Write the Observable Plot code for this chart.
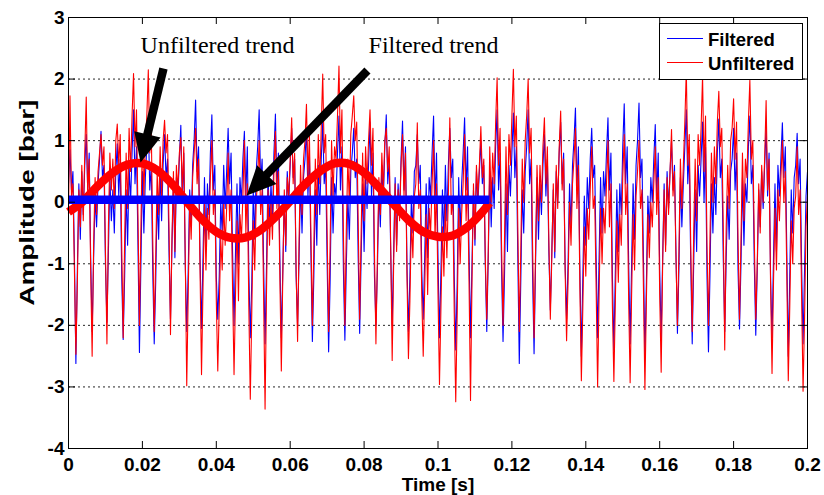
<!DOCTYPE html>
<html><head><meta charset="utf-8">
<script src="https://cdn.jsdelivr.net/npm/d3@7"></script>
<script src="https://cdn.jsdelivr.net/npm/@observablehq/plot@0.6"></script>
<style>
html,body{margin:0;padding:0;background:#fff;}
#wrap{position:relative;width:824px;height:495px;}
#legend{position:absolute;left:0;top:0;pointer-events:none;}
</style></head><body><div id="wrap"></div>
<script>
// sampling interval of the recorded signals [s]
const sampleStep = 0.0004;

// Filtered pressure signal [bar]
const filtered = [
 0.3,0.85,0.2,0.5,-0.9,-2.62,
 -1.1,0.3,-0.6,0.5,-0.2,0.6,1.1,0.2,0.8,-0.9,-2.1,
 -0.9,0.1,-0.4,0.3,0.7,1.15,0.4,0.6,-1.0,-1.95,
 -0.8,0.4,-0.3,0.2,-0.5,0.5,0.95,0.1,0.7,-1.2,-2.23,
 -1.2,0.2,-0.7,0.6,0.0,0.8,1.5,0.3,0.9,-0.7,-2.44,
 -1.0,0.5,-0.5,0.4,0.9,1.3,0.2,0.6,-1.1,-2.3,
 -1.3,0.1,-0.6,0.5,-0.3,0.6,1.1,0.4,0.7,-0.8,-1.9,
 -0.7,0.3,-0.9,0.4,0.1,0.7,1.25,0.0,0.8,-1.0,-2.1,
 -1.1,0.2,-0.4,0.6,1.0,1.66,0.5,0.9,-0.9,-2.05,
 -0.9,0.4,-0.7,0.3,-0.2,0.8,1.42,0.2,0.6,-1.2,-1.9,
 -1.2,0.0,-0.5,0.6,-0.1,0.5,1.2,0.3,0.8,-0.8,-2.0,
 -0.8,0.3,-1.0,0.4,0.0,0.7,1.15,0.1,0.9,-1.1,-2.2,
 -1.3,0.2,-0.6,0.5,0.9,1.5,0.3,0.7,-1.0,-2.3,
 -1.0,0.5,-0.4,0.3,-0.3,0.8,1.43,0.2,0.8,-0.9,-2.2,
 -1.1,0.1,-0.8,0.5,0.0,0.6,1.2,0.4,0.7,-1.2,-2.0,
 -0.9,0.3,-0.5,0.4,0.7,1.2,0.1,0.8,-0.8,-2.26,
 -1.2,0.2,-0.7,0.6,-0.2,0.7,1.3,0.3,0.6,-1.0,-2.43,
 -1.3,0.4,-0.5,0.3,0.1,0.8,1.4,0.2,0.9,-1.1,-2.24,
 -1.0,0.1,-0.6,0.5,0.8,1.2,0.4,0.7,-0.9,-2.13,
 -0.9,0.3,-0.8,0.4,-0.1,0.6,1.3,0.1,0.8,-1.2,-2.0,
 -1.1,0.2,-0.4,0.6,0.0,0.9,1.42,0.3,0.7,-0.8,-2.0,
 -0.8,0.4,-0.7,0.3,-0.2,0.7,1.32,0.2,0.9,-1.0,-2.1,
 -1.2,0.1,-0.5,0.5,0.6,1.1,0.3,0.6,-1.1,-1.9,
 -0.9,0.3,-0.9,0.4,0.1,0.8,1.4,0.0,0.8,-0.9,-2.2,
 -1.1,0.2,-0.6,0.6,-0.3,0.6,1.2,0.4,0.7,-1.2,-2.4,
 -1.3,0.4,-0.5,0.3,0.8,1.37,0.2,0.9,-0.8,-2.2,
 -1.0,0.2,-0.7,0.5,0.0,0.5,1.0,0.3,0.6,-1.0,-2.1,
 -0.9,0.5,-0.4,0.4,-0.1,0.9,1.5,0.2,0.8,-1.1,-2.26,
 -1.2,0.3,-0.8,0.6,0.1,0.8,1.45,0.4,0.9,-0.9,-2.62,
 -1.3,0.2,-0.5,0.5,0.9,1.5,0.3,0.7,-1.2,-2.46,
 -1.0,0.4,-0.6,0.3,-0.2,0.6,1.1,0.1,0.7,-0.8,-1.75,
 -0.8,0.2,-0.9,0.5,0.0,0.8,1.3,0.3,0.8,-1.0,-1.9,
 -1.0,0.3,-0.4,0.6,1.0,1.53,0.2,0.9,-1.1,-2.5,
 -1.2,0.1,-0.7,0.4,-0.1,0.7,1.2,0.4,0.6,-0.9,-2.2,
 -0.9,0.4,-0.5,0.5,0.1,0.8,1.37,0.2,0.8,-1.2,-2.4,
 -1.1,0.2,-0.8,0.3,-0.2,0.9,1.6,0.3,0.9,-1.0,-2.3,
 -1.0,0.3,-0.6,0.6,1.0,1.61,0.4,0.7,-0.9,-2.5,
 -1.3,0.1,-0.5,0.4,0.0,0.7,1.26,0.1,0.8,-1.1,-2.2,
 -0.9,0.3,-0.7,0.5,-0.1,0.5,1.0,0.2,0.6,-0.8,-2.13,
 -1.1,0.4,-0.4,0.3,0.9,1.5,0.3,0.8,-1.0,-2.3,
 -1.0,0.2,-0.8,0.6,0.1,0.7,1.3,0.0,0.9,-1.2,-2.43,
 -1.2,0.3,-0.5,0.4,-0.2,0.8,1.35,0.4,0.7,-0.9,-2.1,
 -0.9,0.1,-0.6,0.5,0.7,1.2,0.2,0.8,-1.1,-2.06,
 -1.0,0.4,-0.7,0.3,0.0,0.9,1.4,0.3,0.6,-1.0,-2.16,
 -1.1,0.2,-0.4,0.5,-0.1,0.6,1.2,0.1,0.8,-1.2,-2.2,
 -0.9,0.3,-0.8,0.6,0.1,0.7,1.29,0.4,0.9,-0.8,-2.5,
 -1.2,0.2,-0.5,0.4,0.6,1.12,0.3,0.7,-1.0,-2.3,
 -1.1,0.1,0.5
];

// Unfiltered pressure signal [bar]
const unfiltered = [
 -0.2,1.73,0.1,0.3,-1.1,-2.47,
 -1.3,0.2,-0.4,0.6,-0.3,0.8,1.71,0.1,0.7,-1.1,-2.5,
 -0.7,0.4,-0.2,0.5,0.8,1.1,0.6,0.9,-0.8,-2.3,
 -0.4,0.8,0.2,0.7,-0.1,1.0,1.27,0.6,1.1,-0.7,-2.2,
 -0.6,0.8,-0.1,1.2,0.5,1.4,2.09,0.9,1.5,-0.2,-2.0,
 -0.4,1.1,0.1,1.0,1.4,2.15,0.8,1.2,-0.6,-2.1,
 -0.9,0.5,-0.2,0.9,0.1,1.0,1.33,0.8,1.1,-0.4,-2.15,
 -0.6,0.5,-0.8,0.6,0.2,0.8,1.05,0.2,0.9,-0.9,-2.98,
 -1.5,0.0,-0.6,0.4,0.8,1.2,0.3,0.7,-1.1,-2.8,
 -1.4,0.0,-1.1,-0.1,-0.6,0.4,1.0,-0.2,0.2,-1.6,-2.74,
 -1.7,-0.6,-1.1,0.0,-0.7,-0.1,0.8,-0.3,0.2,-1.4,-2.8,
 -1.5,-0.3,-1.6,-0.2,-0.6,0.1,1.0,-0.5,0.3,-1.7,-3.2,
 -1.8,-0.3,-1.1,0.0,0.4,1.0,-0.2,0.2,-1.5,-3.36,
 -1.4,0.2,-0.7,0.0,-0.6,0.5,1.15,-0.1,0.5,-1.2,-2.74,
 -1.2,0.2,-0.7,0.4,0.1,0.7,1.37,0.3,0.8,-1.1,-2.26,
 -0.6,0.6,-0.2,0.7,1.0,1.59,0.4,1.1,-0.5,-2.0,
 -0.7,0.7,-0.2,1.1,0.3,1.2,2.08,0.8,1.1,-0.5,-2.1,
 -0.7,1.0,0.1,0.9,0.7,1.4,2.21,0.8,1.5,-0.5,-2.0,
 -0.4,0.7,0.0,1.1,1.4,1.73,1.0,1.3,-0.3,-1.9,
 -0.5,0.8,-0.3,0.9,0.3,1.0,1.5,0.6,1.2,-0.8,-2.3,
 -0.9,0.4,-0.2,0.8,0.2,1.0,1.2,0.5,0.9,-0.7,-2.57,
 -1.0,0.3,-0.8,0.2,-0.3,0.6,1.1,0.1,0.8,-1.2,-2.54,
 -1.6,-0.3,-0.9,0.1,0.3,1.29,-0.1,0.2,-1.5,-2.5,
 -1.4,-0.2,-1.5,-0.1,-0.5,0.3,1.0,-0.6,0.3,-1.5,-2.96,
 -1.7,-0.4,-1.2,0.0,-0.9,0.1,1.37,-0.2,0.1,-1.8,-3.24,
 -1.8,-0.1,-1.0,-0.2,0.3,1.1,-0.3,0.4,-1.3,-3.22,
 -1.3,0.3,-0.6,0.6,0.1,0.6,1.23,0.4,0.7,-0.9,-1.9,
 -0.8,0.9,0.0,0.8,0.3,1.3,2.02,0.6,1.2,-0.7,-2.0,
 -0.6,0.9,-0.2,1.1,0.6,1.4,2.16,0.9,1.4,-0.4,-2.1,
 -0.8,0.7,0.0,1.0,1.4,2.0,0.8,1.2,-0.7,-2.2,
 -0.8,0.6,-0.3,0.6,0.0,0.9,1.37,0.3,0.9,-0.6,-1.9,
 -0.9,0.3,-0.8,0.6,-0.1,0.9,1.48,0.2,0.7,-1.1,-2.25,
 -1.3,0.0,-0.7,0.3,0.7,1.2,-0.1,0.6,-1.4,-2.9,
 -1.7,-0.4,-1.2,-0.1,-0.6,0.2,0.9,-0.1,0.1,-1.4,-3.0,
 -1.5,-0.1,-1.0,-0.1,-0.5,0.3,1.0,-0.4,0.3,-1.7,-2.91,
 -1.6,-0.3,-1.3,-0.2,-0.7,0.4,1.1,-0.2,0.3,-1.6,-2.93,
 -1.5,-0.2,-1.1,0.1,0.5,1.0,-0.1,0.2,-1.4,-3.04,
 -1.6,-0.2,-0.9,0.0,-0.4,0.3,0.9,-0.2,0.4,-1.5,-2.76,
 -1.0,0.2,-0.8,0.4,-0.2,0.5,1.18,0.1,0.5,-0.9,-2.0,
 -0.8,0.7,-0.1,0.6,1.3,2.15,0.6,1.1,-0.7,-2.1,
 -0.5,0.7,-0.3,1.1,0.6,1.2,2.05,0.5,1.4,-0.7,-2.0,
 -0.6,0.8,0.0,0.9,0.3,1.3,1.8,0.9,1.2,-0.4,-2.4,
 -0.4,0.6,-0.1,1.0,1.2,1.68,0.7,1.3,-0.6,-1.9,
 -0.6,0.8,-0.3,0.7,0.4,1.3,1.98,0.7,1.0,-0.6,-1.9,
 -1.0,0.3,-0.5,0.6,0.0,0.7,1.65,0.2,0.7,-1.3,-2.78,
 -1.3,-0.1,-1.1,0.2,-0.3,0.4,1.0,0.0,0.5,-1.2,-2.9,
 -1.7,-0.3,-1.0,-0.1,0.1,0.9,-0.2,0.2,-1.5,-3.07,
 -1.9,-0.4,0.1
];

// Slow trend of the unfiltered signal (thick red curve)
const unfilteredTrendTime = [0,0.004,0.008,0.012,0.016,0.020,0.024,0.028,0.032,0.036,0.040,0.044,0.048,0.052,0.056,0.060,0.064,0.068,0.072,0.076,0.080,0.084,0.088,0.092,0.096,0.100,0.104,0.108,0.112,0.1139];
const unfilteredTrend = [-0.16,0.02,0.27,0.48,0.61,0.63,0.52,0.30,0.01,-0.27,-0.48,-0.58,-0.57,-0.45,-0.24,0.02,0.29,0.50,0.63,0.62,0.48,0.24,-0.03,-0.29,-0.48,-0.56,-0.54,-0.40,-0.16,-0.01];
// Trend of the filtered signal (thick blue line)
const filteredTrendTime = [0, 0.1139];
const filteredTrend = [0.04, 0.04];

// Axes
const xTicks = [0,0.02,0.04,0.06,0.08,0.1,0.12,0.14,0.16,0.18,0.2];
const xTickLabels = ["0","0.02","0.04","0.06","0.08","0.1","0.12","0.14","0.16","0.18","0.2"];
const yTicks = [-4,-3,-2,-1,0,1,2,3];
const yTickLabels = ["-4","-3","-2","-1","0","1","2","3"];
const gridY = [-3,-2,-1,0,1,2];

// Annotations (data coordinates)
const noteText = ["Unfiltered trend", "Filtered trend"];
const noteX = [0.0195, 0.0812];
const noteY = [2.43, 2.43];
const arrowFromX = [0.0257, 0.0809];
const arrowFromY = [2.17, 2.14];
const arrowNeckX = [0.0204, 0.0508];
const arrowNeckY = [0.866, 0.273];
const arrowTipX = [0.0195, 0.0482];
const arrowTipY = [0.645, 0.109];
const arrowAngle = [193.7, 224.1];

const seriesNames = ["Filtered", "Unfiltered"];
const seriesColors = ["#0000ff", "#ff0000"];

const filteredData = filtered.map((v, i) => ({t: i * sampleStep, v}));
const unfilteredData = unfiltered.map((v, i) => ({t: i * sampleStep, v}));
const redTrendData = unfilteredTrend.map((v, i) => ({t: unfilteredTrendTime[i], v}));
const blueTrendData = filteredTrend.map((v, i) => ({t: filteredTrendTime[i], v}));
const notes = noteText.map((s, i) => ({s, x: noteX[i], y: noteY[i]}));
const arrows = arrowAngle.map((a, i) => ({x1: arrowFromX[i], y1: arrowFromY[i], x2: arrowNeckX[i], y2: arrowNeckY[i], tx: arrowTipX[i], ty: arrowTipY[i], a}));

const headSymbol = {draw(ctx) { ctx.moveTo(0, 0); ctx.lineTo(-13.5, 29); ctx.lineTo(13.5, 29); ctx.closePath(); }};

const chart = Plot.plot({
  width: 824, height: 495,
  marginLeft: 68, marginRight: 17, marginTop: 17, marginBottom: 47,
  x: {domain: [0, 0.2]},
  y: {domain: [-4, 3]},
  style: {fontFamily: "'Liberation Sans', Arial, sans-serif", fontSize: "19px", fontWeight: "bold", background: "#fff"},
  marks: [
    Plot.ruleY(gridY, {y: d => d, stroke: "#000", strokeWidth: 1, strokeDasharray: "2,3", strokeOpacity: 0.85}),
    Plot.line(filteredData, {x: "t", y: "v", stroke: seriesColors[0], strokeWidth: 1.1}),
    Plot.line(unfilteredData, {x: "t", y: "v", stroke: seriesColors[1], strokeWidth: 1.1}),
    Plot.line(redTrendData, {x: "t", y: "v", stroke: "#ff0000", strokeWidth: 8.5, curve: "catmull-rom", strokeLinecap: "butt"}),
    Plot.line(blueTrendData, {x: "t", y: "v", stroke: "#0000ff", strokeWidth: 8.5, strokeLinecap: "butt"}),
    Plot.link(arrows, {x1: "x1", y1: "y1", x2: "x2", y2: "y2", stroke: "#000", strokeWidth: 8.5, strokeLinecap: "butt"}),
    Plot.dot(arrows, {x: "tx", y: "ty", symbol: headSymbol, rotate: "a", fill: "#000", stroke: "none"}),
    Plot.text(notes, {x: "x", y: "y", text: "s", textAnchor: "start", lineAnchor: "bottom", fontFamily: "'Liberation Serif', 'Times New Roman', serif", fontWeight: "normal", fontSize: 24, fill: "#000"}),
    Plot.frame({stroke: "#000", strokeWidth: 1}),
    Plot.tickX(xTicks, {x: d => d, insetTop: 424, stroke: "#000"}),
    Plot.tickX(xTicks, {x: d => d, insetBottom: 424, stroke: "#000"}),
    Plot.tickY(yTicks, {y: d => d, insetRight: 732, stroke: "#000"}),
    Plot.tickY(yTicks, {y: d => d, insetLeft: 732, stroke: "#000"}),
    Plot.axisX(xTicks, {tickSize: 0, tickPadding: 9, tickFormat: (d, i) => xTickLabels[i], label: null, fill: "#000"}),
    Plot.axisY(yTicks, {tickSize: 0, tickPadding: 4, tickFormat: (d, i) => yTickLabels[i], label: null, fill: "#000"}),
    Plot.text(["Time [s]"], {frameAnchor: "bottom", dy: 42, lineAnchor: "bottom", text: d => d, fontSize: 19, fill: "#000"}),
    Plot.text(["Amplitude [bar]"], {frameAnchor: "left", y: [-1.68], dx: -35, rotate: -90, textAnchor: "start", lineAnchor: "bottom", text: d => d, fontSize: 21, fill: "#000"})
  ]
});
document.getElementById("wrap").appendChild(chart);
d3.select(chart).selectAll("text").filter(function() { return this.textContent === "Amplitude [bar]"; })
  .attr("textLength", 206).attr("lengthAdjust", "spacingAndGlyphs");

// Legend box (inside the axes, top right)
const lg = d3.select("#wrap").append("svg").attr("id", "legend").attr("width", 824).attr("height", 495);
lg.append("rect").attr("x", 659.5).attr("y", 23.5).attr("width", 143).attr("height", 56).attr("fill", "#fff").attr("stroke", "#000");
seriesNames.forEach((name, i) => {
  const cy = 38.5 + i * 24;
  lg.append("line").attr("x1", 667).attr("x2", 703).attr("y1", cy).attr("y2", cy).attr("stroke", seriesColors[i]).attr("stroke-width", 1);
  lg.append("text").attr("x", 708).attr("y", cy + 7).attr("font-family", "'Liberation Sans', Arial, sans-serif").attr("font-weight", "bold").attr("font-size", 18.5).attr("fill", "#000").text(name);
});
</script></body></html>
